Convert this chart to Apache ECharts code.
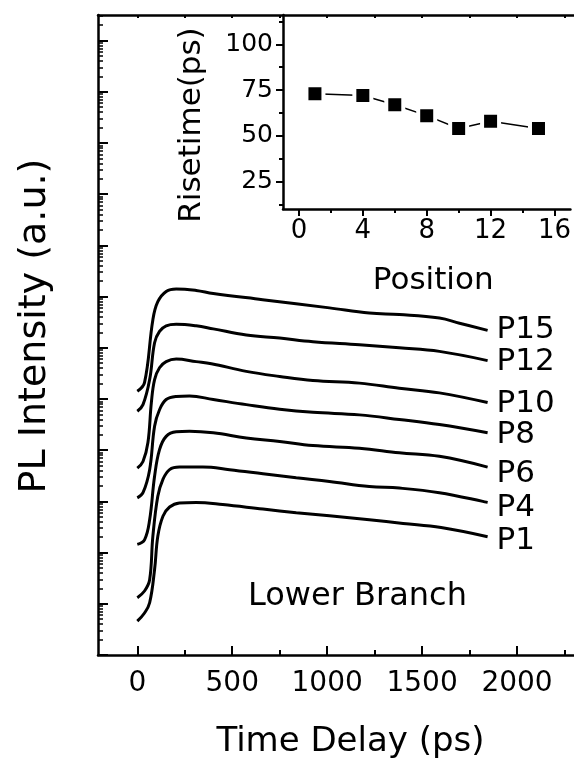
<!DOCTYPE html>
<html>
<head>
<meta charset="utf-8">
<script src="https://cdn.jsdelivr.net/npm/echarts@6/dist/echarts.min.js"></script>
<style>
html, body { margin: 0; padding: 0; background: #fff; }
#chart { width: 574px; height: 765px; }
</style>
</head>
<body>
<div id="chart"></div>
<script>
//////////// data ////////////
// PL transients, time (ps) and log10 of PL intensity (a.u.)
var curveNames = ['P15', 'P12', 'P10', 'P8', 'P6', 'P4', 'P1'];

var timeP15 = [0, 38, 82, 108, 152, 205, 310, 400, 660, 1012, 1222, 1380, 1591, 1697, 1845];
var logP15  = [5.15, 5.32, 6.55, 6.90, 7.10, 7.15, 7.12, 7.06, 6.94, 6.78, 6.68, 6.65, 6.58, 6.48, 6.34];

var timeP12 = [0, 30, 65, 91, 117, 152, 205, 310, 400, 574, 750, 925, 1170, 1380, 1591, 1845];
var logP12  = [4.76, 4.89, 5.38, 6.10, 6.32, 6.43, 6.46, 6.43, 6.37, 6.25, 6.19, 6.12, 6.06, 6.00, 5.93, 5.75];

var timeP10 = [0, 30, 56, 74, 91, 117, 152, 205, 310, 390, 574, 750, 925, 1170, 1380, 1591, 1845];
var logP10  = [3.65, 3.78, 4.15, 4.93, 5.38, 5.61, 5.73, 5.78, 5.73, 5.69, 5.54, 5.44, 5.36, 5.31, 5.21, 5.12, 4.93];

var timeP8 = [0, 30, 65, 91, 117, 152, 205, 275, 400, 574, 750, 925, 1170, 1380, 1591, 1845];
var logP8  = [3.07, 3.17, 3.62, 4.47, 4.79, 4.99, 5.05, 5.06, 4.99, 4.89, 4.80, 4.74, 4.69, 4.60, 4.50, 4.34];

var timeP6 = [0, 38, 65, 91, 117, 152, 205, 275, 400, 574, 750, 925, 1170, 1380, 1591, 1845];
var logP6  = [2.16, 2.25, 2.64, 3.49, 4.01, 4.27, 4.36, 4.37, 4.34, 4.24, 4.17, 4.09, 4.04, 3.95, 3.88, 3.67];

var timeP4 = [0, 38, 65, 82, 108, 135, 170, 222, 345, 486, 662, 837, 1012, 1222, 1380, 1591, 1845];
var logP4  = [1.12, 1.25, 1.47, 2.32, 3.10, 3.43, 3.62, 3.67, 3.67, 3.62, 3.54, 3.46, 3.39, 3.29, 3.26, 3.17, 2.98];

var timeP1 = [0, 38, 65, 91, 108, 135, 170, 222, 310, 450, 662, 837, 1012, 1222, 1400, 1600, 1845];
var logP1  = [0.66, 0.82, 1.02, 1.67, 2.32, 2.71, 2.89, 2.97, 2.98, 2.94, 2.85, 2.78, 2.72, 2.64, 2.57, 2.49, 2.31];

// inset: rise time vs position
var positions = [1, 4, 6, 8, 10, 12, 15];
var riseTimes = [73, 72, 67, 61, 54, 58, 54];

// tick values
var timeLabels = [0, 500, 1000, 1500, 2000];
var timeMinor = [250, 750, 1250, 1750, 2250];
var timeTop = [0, 250, 500, 750, 1000, 1250, 1500, 1750, 2000, 2250];
var posLabels = [0, 4, 8, 12, 16];
var posMinor = [2, 6, 10, 14];
var riseLabels = [25, 50, 75, 100];
var riseMinor = [12.5, 37.5, 62.5, 87.5, 112.5];

var FONT = 'DejaVu Sans';
var yMax = Math.pow(10, 12.5);

//////////// chart ////////////
showChart();

function toPairs(t, lg) {
	var out = [];
	for (var i = 0; i < t.length; i++) {
		out.push([t[i], Math.pow(10, lg[i])]);
	}
	return out;
}

// log axis ticks: decades and 2..9 in between
function logTicks() {
	var major = [];
	var minor = [];
	for (var n = 0; n <= 12; n++) {
		major.push(Math.pow(10, n));
		for (var k = 2; k <= 9; k++) {
			var v = k * Math.pow(10, n);
			if (v < yMax) minor.push(v);
		}
	}
	return { major: major, minor: minor };
}

function plain(v) {
	return String(v);
}

function showChart() {
	var chart = echarts.init(document.getElementById('chart'));
	var ticks = logTicks();
	var times = [timeP15, timeP12, timeP10, timeP8, timeP6, timeP4, timeP1];
	var logs = [logP15, logP12, logP10, logP8, logP6, logP4, logP1];
	var labelDy = [0, 1, 1, 2, 7, 6, 4];
	var black = '#000';

	var series = [];
	for (var i = 0; i < curveNames.length; i++) {
		series.push({
			name: curveNames[i],
			type: 'line',
			xAxisIndex: 0,
			yAxisIndex: 0,
			data: toPairs(times[i], logs[i]),
			showSymbol: false,
			smooth: 0.4,
			lineStyle: { color: black, width: 3 },
			endLabel: {
				show: true,
				formatter: '{a}',
				distance: 9,
				offset: [0, labelDy[i]],
				color: black,
				fontFamily: FONT,
				fontSize: 31
			}
		});
	}
	series.push({
		name: 'Risetime',
		type: 'line',
		xAxisIndex: 4,
		yAxisIndex: 2,
		data: positions.map(function(p, j) { return [p, riseTimes[j]]; }),
		symbol: 'rect',
		symbolSize: 17,
		itemStyle: { color: black, borderColor: '#fff', borderWidth: 4 },
		lineStyle: { color: black, width: 1.5 },
		z: 5
	});

	var axisLine = { show: true, onZero: false, lineStyle: { color: black, width: 2.5 } };
	var noLine = { show: false, onZero: false };

	var option = {
		animation: false,
		backgroundColor: '#fff',
		grid: [
			{ left: 98, right: 0, top: 15, bottom: 110 },
			{ left: 283, right: 0, top: 15, bottom: 556 }
		],
		xAxis: [
			{
				type: 'value', gridIndex: 0, min: -207, max: 2300, position: 'bottom',
				name: 'Time Delay (ps)', nameLocation: 'middle', nameGap: 70,
				nameTextStyle: { color: black, fontFamily: FONT, fontSize: 34, padding: [0, 0, 0, 29] },
				axisLine: axisLine,
				axisTick: { show: true, inside: true, length: 9, customValues: timeLabels, lineStyle: { color: black, width: 2 } },
				axisLabel: { show: true, customValues: timeLabels, formatter: plain, margin: 15, color: black, fontFamily: FONT, fontSize: 28 },
				splitLine: { show: false }
			},
			{
				type: 'value', gridIndex: 0, min: -207, max: 2300, position: 'bottom',
				axisLine: noLine,
				axisTick: { show: true, inside: true, length: 5, customValues: timeMinor, lineStyle: { color: black, width: 2 } },
				axisLabel: { show: false },
				splitLine: { show: false }
			},
			{
				type: 'value', gridIndex: 0, min: -207, max: 2300, position: 'top',
				axisLine: axisLine,
				axisTick: { show: true, inside: true, length: 3, customValues: timeTop, lineStyle: { color: black, width: 2 } },
				axisLabel: { show: false },
				splitLine: { show: false }
			},
			{
				type: 'value', gridIndex: 1, min: -1, max: 17, position: 'bottom',
				axisLine: noLine,
				axisTick: { show: true, length: 4, customValues: posMinor, lineStyle: { color: black, width: 2 } },
				axisLabel: { show: false },
				splitLine: { show: false }
			},
			{
				type: 'value', gridIndex: 1, min: -1, max: 17, position: 'bottom',
				name: 'Position', nameLocation: 'middle', nameGap: 56,
				nameTextStyle: { color: black, fontFamily: FONT, fontSize: 31, padding: [0, 0, 0, 13] },
				axisLine: axisLine,
				axisTick: { show: true, length: 7, customValues: posLabels, lineStyle: { color: black, width: 2 } },
				axisLabel: { show: true, customValues: posLabels, formatter: plain, margin: 9, color: black, fontFamily: FONT, fontSize: 26 },
				splitLine: { show: false }
			}
		],
		yAxis: [
			{
				type: 'log', gridIndex: 0, min: 1, max: yMax, position: 'left',
				name: 'PL Intensity (a.u.)', nameLocation: 'middle', nameGap: 44,
				nameTextStyle: { color: black, fontFamily: FONT, fontSize: 38, padding: [0, 0, 0, 18] },
				axisLine: axisLine,
				axisTick: { show: true, inside: true, length: 10, customValues: ticks.major, lineStyle: { color: black, width: 2 } },
				axisLabel: { show: false },
				splitLine: { show: false }
			},
			{
				type: 'log', gridIndex: 0, min: 1, max: yMax, position: 'left',
				axisLine: noLine,
				axisTick: { show: true, inside: true, length: 5, customValues: ticks.minor, lineStyle: { color: black, width: 1.5 } },
				axisLabel: { show: false },
				splitLine: { show: false }
			},
			{
				type: 'value', gridIndex: 1, min: 10, max: 116, position: 'left',
				name: 'Risetime(ps)', nameLocation: 'middle', nameGap: 76,
				nameTextStyle: { color: black, fontFamily: FONT, fontSize: 31, padding: [0, 26, 0, 0] },
				axisLine: axisLine,
				axisTick: { show: true, length: 7, customValues: riseLabels, lineStyle: { color: black, width: 2 } },
				axisLabel: { show: true, customValues: riseLabels, formatter: plain, margin: 10, color: black, fontFamily: FONT, fontSize: 25 },
				splitLine: { show: false }
			},
			{
				type: 'value', gridIndex: 1, min: 10, max: 116, position: 'left',
				axisLine: noLine,
				axisTick: { show: true, length: 4, customValues: riseMinor, lineStyle: { color: black, width: 2 } },
				axisLabel: { show: false },
				splitLine: { show: false }
			}
		],
		graphic: [{
			type: 'text',
			left: 248,
			top: 581,
			style: { text: 'Lower Branch', fill: black, font: '32px "DejaVu Sans"' }
		}],
		series: series
	};

	chart.setOption(option);
}
</script>
</body>
</html>
